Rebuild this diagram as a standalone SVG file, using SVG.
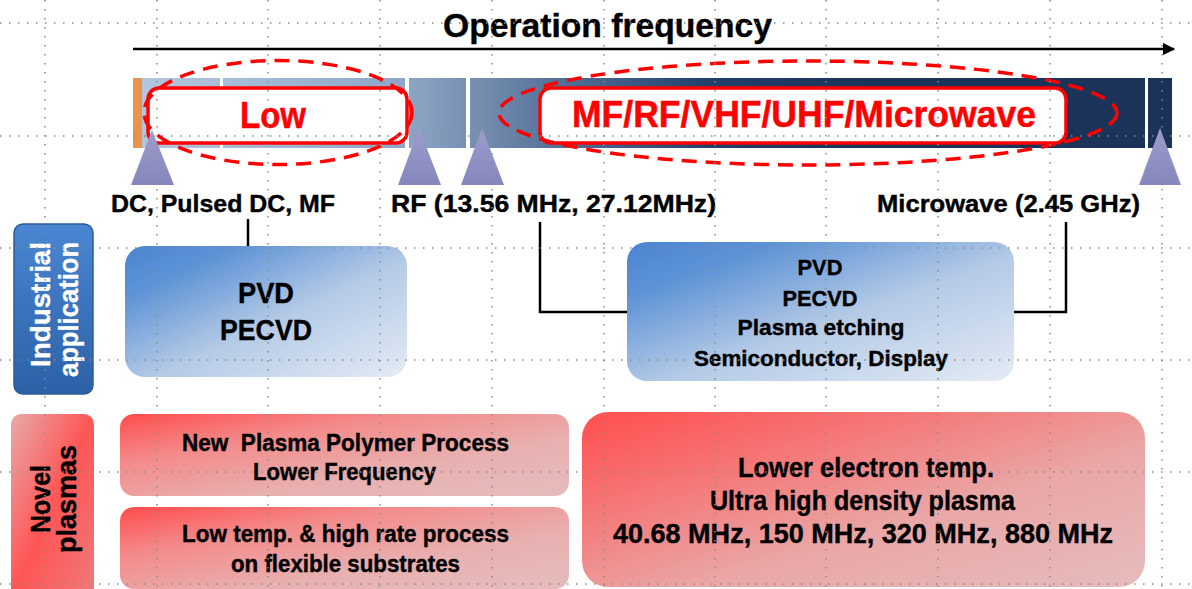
<svg xmlns="http://www.w3.org/2000/svg" width="1192" height="589" viewBox="0 0 1192 589">
<defs>
<style>
.t{font-family:"Liberation Sans",Arial,sans-serif;font-weight:bold;fill:#000;stroke:#000;stroke-width:0.4}
.w{fill:#fff;stroke:#fff;stroke-width:0.3}
.lab{font-size:24px}
.red{fill:#ff0000;font-family:"Liberation Sans",Arial,sans-serif;font-weight:bold;stroke:#ff0000;stroke-width:0.5}
.grid{stroke:#8a8a8a;stroke-width:1.5;stroke-dasharray:1.5 7.5;fill:none}
.conn{stroke:#000;stroke-width:2.5;fill:none}
.tri{fill:url(#triG)}
.redbox{fill:#fff;stroke:#ff0000;stroke-width:3.5}
.dash{fill:none;stroke:#ff0000;stroke-width:3.5;stroke-dasharray:15 9}
</style>
<linearGradient id="barG" gradientUnits="userSpaceOnUse" x1="142" y1="0" x2="1172" y2="0">
<stop offset="0" stop-color="#b3c6de"/>
<stop offset="0.255" stop-color="#8ea6c6"/>
<stop offset="0.32" stop-color="#7790b2"/>
<stop offset="0.42" stop-color="#4f6b92"/>
<stop offset="0.55" stop-color="#22406a"/>
<stop offset="0.7" stop-color="#1b3459"/>
<stop offset="1" stop-color="#1b3358"/>
</linearGradient>
<linearGradient id="blueBox" x1="0" y1="0" x2="1" y2="1">
<stop offset="0" stop-color="#4a84d0"/>
<stop offset="0.2" stop-color="#5e93d6"/>
<stop offset="0.55" stop-color="#b4cae6"/>
<stop offset="1" stop-color="#e4ebf5"/>
</linearGradient>
<linearGradient id="pinkBox" x1="0" y1="0" x2="1" y2="1">
<stop offset="0" stop-color="#ff4c4c"/>
<stop offset="0.3" stop-color="#f48a8a"/>
<stop offset="0.65" stop-color="#e8b0b0"/>
<stop offset="1" stop-color="#e6bcbc"/>
</linearGradient>
<linearGradient id="pinkBig" x1="0" y1="0" x2="1" y2="1">
<stop offset="0" stop-color="#ff4e4e"/>
<stop offset="0.25" stop-color="#f77070"/>
<stop offset="0.6" stop-color="#eaa6a6"/>
<stop offset="1" stop-color="#e6bcbc"/>
</linearGradient>
<linearGradient id="indG" x1="0" y1="0" x2="0" y2="1">
<stop offset="0" stop-color="#4a86d2"/>
<stop offset="1" stop-color="#2c61a6"/>
</linearGradient>
<linearGradient id="novG" x1="0" y1="0" x2="1" y2="1">
<stop offset="0" stop-color="#e9a9a9"/>
<stop offset="0.5" stop-color="#ff5555"/>
<stop offset="1" stop-color="#f07a7a"/>
</linearGradient>
<linearGradient id="triG" x1="0" y1="0" x2="0" y2="1">
<stop offset="0" stop-color="#9c9dcc"/>
<stop offset="1" stop-color="#8587bb"/>
</linearGradient>
<marker id="arr" viewBox="0 0 10 10" refX="9" refY="5" markerWidth="5" markerHeight="5" orient="auto" markerUnits="strokeWidth">
<path d="M0,0 L10,5 L0,10 z" fill="#000"/>
</marker>
</defs>
<rect width="1192" height="589" fill="#fff"/>

<g id="title">
<text class="t" x="607.5" y="37" font-size="33" text-anchor="middle" textLength="329" lengthAdjust="spacingAndGlyphs">Operation frequency</text>
<line x1="133" y1="49" x2="1174" y2="49" stroke="#000" stroke-width="2.5" marker-end="url(#arr)"/>
</g>

<g id="frequency-bar">
<rect x="133" y="78" width="9" height="70" fill="#e8944c"/>
<rect x="142" y="78" width="78" height="70" fill="url(#barG)"/>
<rect x="223" y="78" width="182" height="70" fill="url(#barG)"/>
<rect x="409" y="78" width="57" height="70" fill="url(#barG)"/>
<rect x="470" y="78" width="675" height="70" fill="url(#barG)"/>
<rect x="1148" y="78" width="24" height="70" fill="url(#barG)"/>
</g>

<g id="low">
<rect class="redbox" x="148" y="88" width="259" height="55" rx="11"/>
<text class="red" x="273" y="128" font-size="36" text-anchor="middle" textLength="66" lengthAdjust="spacingAndGlyphs">Low</text>
<ellipse class="dash" cx="278" cy="112.5" rx="134" ry="52"/>
</g>

<g id="high">
<rect class="redbox" x="540" y="88" width="526" height="55" rx="11"/>
<text class="red" x="804" y="127" font-size="37" text-anchor="middle" textLength="464" lengthAdjust="spacingAndGlyphs">MF/RF/VHF/UHF/Microwave</text>
<ellipse class="dash" cx="808" cy="113" rx="309" ry="52"/>
</g>

<g id="markers">
<polygon class="tri" points="152,130 131,185 174,185"/>
<polygon class="tri" points="419,128 398,185 441,185"/>
<polygon class="tri" points="482,128 461,185 504,185"/>
<polygon class="tri" points="1160,128 1139,185 1181,185"/>
</g>

<g id="labels">
<text class="t lab" x="111" y="212" textLength="224" lengthAdjust="spacingAndGlyphs">DC, Pulsed DC, MF</text>
<text class="t lab" x="391" y="212" textLength="325" lengthAdjust="spacingAndGlyphs">RF (13.56 MHz, 27.12MHz)</text>
<text class="t lab" x="877" y="212" textLength="263" lengthAdjust="spacingAndGlyphs">Microwave (2.45 GHz)</text>
</g>

<g id="connectors">
<line class="conn" x1="248" y1="219" x2="248" y2="246"/>
<polyline class="conn" points="540,222 540,312 628,312"/>
<polyline class="conn" points="1066,222 1066,312 1014,312"/>
</g>

<g id="industrial-label">
<rect x="14" y="224" width="79" height="170" rx="9" fill="url(#indG)" stroke="#2d5b98" stroke-width="1.5"/>
<text class="t w" transform="translate(50,304.5) rotate(-90)" font-size="27" text-anchor="middle" textLength="125" lengthAdjust="spacingAndGlyphs">Industrial</text>
<text class="t w" transform="translate(78,309.5) rotate(-90)" font-size="27" text-anchor="middle" textLength="135" lengthAdjust="spacingAndGlyphs">application</text>
</g>

<g id="pvd-low">
<rect x="125" y="246" width="282" height="131" rx="20" fill="url(#blueBox)"/>
<text class="t" x="266" y="303" font-size="29" text-anchor="middle" textLength="56" lengthAdjust="spacingAndGlyphs">PVD</text>
<text class="t" x="266" y="340" font-size="29" text-anchor="middle" textLength="92" lengthAdjust="spacingAndGlyphs">PECVD</text>
</g>

<g id="pvd-high">
<rect x="627" y="242" width="387" height="139" rx="20" fill="url(#blueBox)"/>
<text class="t" x="820" y="275" font-size="22" text-anchor="middle" textLength="45" lengthAdjust="spacingAndGlyphs">PVD</text>
<text class="t" x="820" y="306" font-size="22" text-anchor="middle" textLength="75" lengthAdjust="spacingAndGlyphs">PECVD</text>
<text class="t" x="821" y="335" font-size="22" text-anchor="middle" textLength="167" lengthAdjust="spacingAndGlyphs">Plasma etching</text>
<text class="t" x="821" y="366" font-size="22" text-anchor="middle" textLength="254" lengthAdjust="spacingAndGlyphs">Semiconductor, Display</text>
</g>

<g id="novel-label">
<rect x="11" y="414" width="83" height="185" rx="10" fill="url(#novG)"/>
<text class="t" transform="translate(50,499) rotate(-90)" font-size="27" text-anchor="middle" textLength="68" lengthAdjust="spacingAndGlyphs">Novel</text>
<text class="t" transform="translate(76,499) rotate(-90)" font-size="27" text-anchor="middle" textLength="108" lengthAdjust="spacingAndGlyphs">plasmas</text>
</g>

<g id="polymer">
<rect x="120" y="414" width="449" height="82" rx="14" fill="url(#pinkBox)"/>
<text class="t" x="345.5" y="451" font-size="23" text-anchor="middle" textLength="327" lengthAdjust="spacingAndGlyphs" xml:space="preserve">New  Plasma Polymer Process</text>
<text class="t" x="344.5" y="480" font-size="23" text-anchor="middle" textLength="183" lengthAdjust="spacingAndGlyphs">Lower Frequency</text>
</g>

<g id="flexible">
<rect x="120" y="507" width="449" height="82" rx="14" fill="url(#pinkBox)"/>
<text class="t" x="345.5" y="542" font-size="23" text-anchor="middle" textLength="327" lengthAdjust="spacingAndGlyphs">Low temp. &amp; high rate process</text>
<text class="t" x="345.5" y="572" font-size="23" text-anchor="middle" textLength="229" lengthAdjust="spacingAndGlyphs">on flexible substrates</text>
</g>

<g id="uhd">
<rect x="582" y="412" width="563" height="175" rx="26" fill="url(#pinkBig)"/>
<text class="t" x="866" y="477" font-size="27" text-anchor="middle" textLength="256" lengthAdjust="spacingAndGlyphs">Lower electron temp.</text>
<text class="t" x="862.5" y="510" font-size="27" text-anchor="middle" textLength="305" lengthAdjust="spacingAndGlyphs">Ultra high density plasma</text>
<text class="t" x="863" y="543" font-size="27" text-anchor="middle" textLength="500" lengthAdjust="spacingAndGlyphs">40.68 MHz, 150 MHz, 320 MHz, 880 MHz</text>
</g>

<g id="grid">
<path class="grid" d="M45 0V589M157 0V589M268 0V589M380 0V589M492 0V589M604 0V589M715 0V589M826 0V589M938 0V589M1050 0V589M1162 0V589"/>
<path class="grid" d="M0 23H1192M0 136H1192M0 248H1192M0 360H1192M0 472H1192M0 584H1192"/>
</g>
</svg>
